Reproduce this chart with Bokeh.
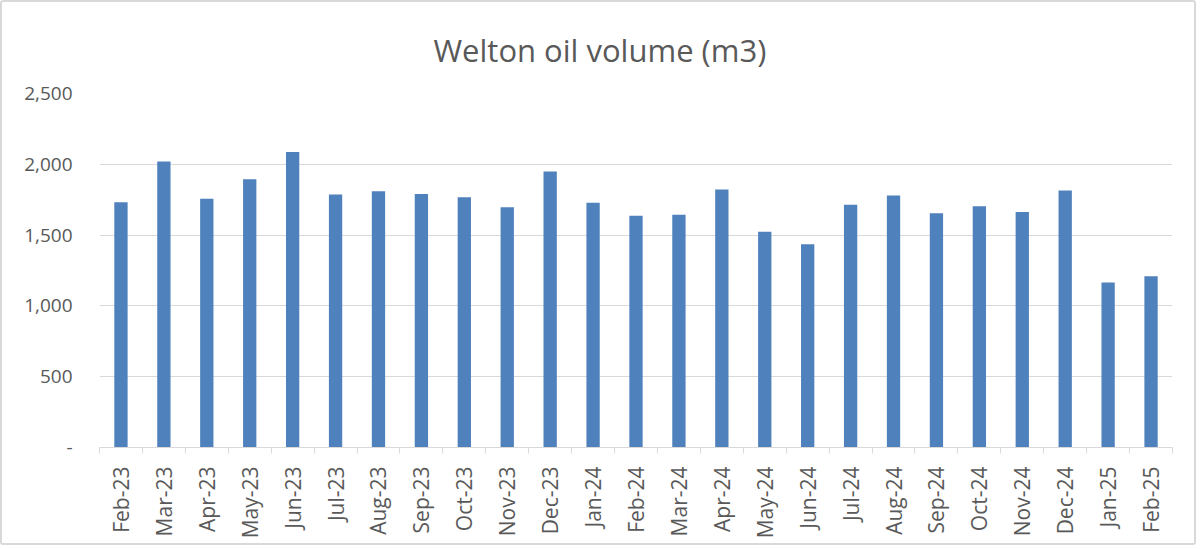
from bokeh.plotting import figure
from bokeh.models import Range1d, FixedTicker, NumeralTickFormatter, Title
from bokeh.embed import file_html
from bokeh.resources import INLINE
import math

months = ["Feb-23", "Mar-23", "Apr-23", "May-23", "Jun-23", "Jul-23", "Aug-23",
          "Sep-23", "Oct-23", "Nov-23", "Dec-23", "Jan-24", "Feb-24", "Mar-24",
          "Apr-24", "May-24", "Jun-24", "Jul-24", "Aug-24", "Sep-24", "Oct-24",
          "Nov-24", "Dec-24", "Jan-25", "Feb-25"]
volume = [1732, 2020, 1756, 1895, 2086, 1787, 1810, 1791, 1768, 1697, 1949,
          1728, 1636, 1643, 1822, 1523, 1436, 1714, 1780, 1655, 1704, 1664,
          1815, 1165, 1210]
y_ticks = [0, 500, 1000, 1500, 2000, 2500]
title_text = "Welton oil volume (m3)"

idx = list(range(len(months)))

TEXT = "#595959"
GRID = "#D9D9D9"
FONT = "Open Sans"

p = figure(width=1196, height=545, output_backend="svg", toolbar_location=None,
           x_range=Range1d(-0.5, len(months) - 0.5), y_range=Range1d(0, 2500),
           min_border_left=97, min_border_right=26, min_border_top=91,
           min_border_bottom=100)
p.styles = {"border": "2px solid #D9D9D9", "border-radius": "3px"}

p.title = Title(text=title_text, align="left", offset=334, standoff=46,
                text_font=FONT, text_font_size="31px", text_font_style="normal",
                text_color=TEXT)

p.vbar(x=idx, top=volume, width=0.31, color="#4F81BD", line_color=None)

p.outline_line_color = None
p.background_fill_color = "white"
p.border_fill_color = "white"

# x axis (bottom)
xa = p.below[0]
xa.ticker = FixedTicker(ticks=idx, minor_ticks=[i - 0.5 for i in range(len(months) + 1)])
xa.major_label_overrides = {i: m for i, m in enumerate(months)}
xa.major_label_orientation = math.pi / 2
xa.major_tick_line_color = None
xa.major_tick_out = 0
xa.major_tick_in = 0
xa.minor_tick_out = 6
xa.minor_tick_in = 0
xa.minor_tick_line_color = GRID
xa.axis_line_color = GRID
xa.major_label_standoff = 13
xa.major_label_text_font = FONT
xa.major_label_text_font_size = "21px"
xa.major_label_text_color = TEXT

# y axis
ya = p.left[0]
ya.ticker = FixedTicker(ticks=y_ticks, minor_ticks=[])
ya.formatter = NumeralTickFormatter(format="0,0")
ya.major_label_overrides = {0: "-"}
ya.axis_line_color = None
ya.major_tick_line_color = None
ya.minor_tick_line_color = None
ya.major_tick_out = 0
ya.major_label_standoff = 27
ya.major_label_text_font = FONT
ya.major_label_text_font_size = "19px"
ya.major_label_text_color = TEXT

p.xgrid.grid_line_color = None
p.ygrid.grid_line_color = GRID
p.ygrid.grid_line_width = 1

open("out.html", "w").write(file_html(p, INLINE))
